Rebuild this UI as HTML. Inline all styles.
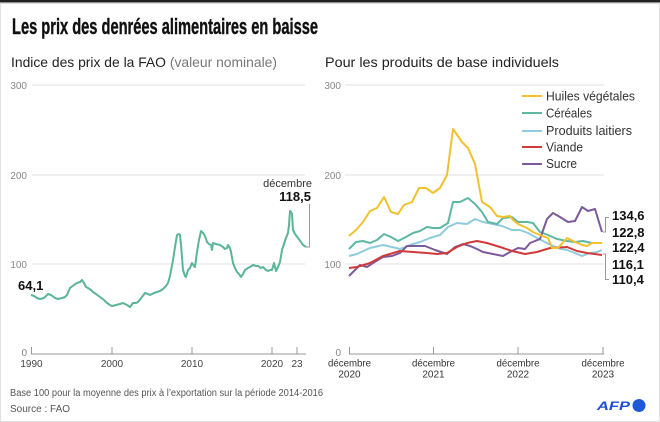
<!DOCTYPE html>
<html><head><meta charset="utf-8"><style>
html,body{margin:0;padding:0;background:#fff;}
svg{display:block;font-family:"Liberation Sans",sans-serif;}
</style></head><body>
<svg width="660" height="422" viewBox="0 0 660 422" xmlns="http://www.w3.org/2000/svg">
<rect x="0" y="0" width="660" height="422" fill="#fff"/>
<rect x="0" y="0" width="660" height="2.5" fill="#222"/>
<line x1="0" y1="3.5" x2="660" y2="3.5" stroke="#ddd" stroke-width="1"/>
<line x1="0.5" y1="3" x2="0.5" y2="422" stroke="#e2e2e2" stroke-width="1"/>
<line x1="659.5" y1="3" x2="659.5" y2="422" stroke="#e2e2e2" stroke-width="1"/>
<line x1="0" y1="421.5" x2="660" y2="421.5" stroke="#e2e2e2" stroke-width="1"/>

<text x="12" y="34" font-size="22" font-weight="bold" fill="#111" stroke="#111" stroke-width="0.4" textLength="306" lengthAdjust="spacingAndGlyphs">Les prix des denrées alimentaires en baisse</text>
<text x="11" y="67" font-size="14" fill="#222" textLength="266" lengthAdjust="spacingAndGlyphs">Indice des prix de la FAO <tspan fill="#777">(valeur nominale)</tspan></text>
<text x="325" y="67" font-size="14" fill="#222" textLength="234" lengthAdjust="spacingAndGlyphs">Pour les produits de base individuels</text>

<!-- Left chart grid -->
<g stroke="#e0e0e0" stroke-width="1">
<line x1="32" y1="85" x2="305" y2="85"/>
<line x1="32" y1="175" x2="305" y2="175"/>
<line x1="32" y1="264" x2="305" y2="264"/>
</g>
<g font-size="10" fill="#888" text-anchor="end">
<text x="27" y="89">300</text>
<text x="27" y="179">200</text>
<text x="27" y="268">100</text>
<text x="27" y="356">0</text>
</g>
<g stroke="#999" stroke-width="1">
<line x1="31" y1="354" x2="306" y2="354"/>
<line x1="31.5" y1="347" x2="31.5" y2="354"/>
<line x1="112" y1="347" x2="112" y2="354"/>
<line x1="192" y1="347" x2="192" y2="354"/>
<line x1="272" y1="347" x2="272" y2="354"/>
<line x1="297" y1="347" x2="297" y2="354"/>
</g>
<g font-size="10" fill="#444" text-anchor="middle">
<text x="31.5" y="367">1990</text>
<text x="112" y="367">2000</text>
<text x="192" y="367">2010</text>
<text x="272" y="367">2020</text>
<text x="297" y="367">23</text>
</g>
<polyline fill="none" stroke="#5bb597" stroke-width="2" stroke-linejoin="round" points="31,295 34,296 37,298 40,299 44,298 48,294 51,295 55,298 58,299 62,298 65,297 67,295 70,288 74,285 77,283 80,282 82,280 84,283 86,287 88,288 91,290 93,292 96,294 100,297 104,300 107,303 110,305 112,306 116,305 120,304 123,303 127,305 130,307 133,303 136,303 138,302 142,297 145,293 148,294 150,295 154,293 157,292 160,291 163,289 166,286 168,283 170,276 173,260 175,247 177,235 179,234 180,235 181,245 183,270 185,276 186,277 188,270 190,268 192,263 194,266 195,267 197,252 199,240 201,231 203,233 205,236 207,242 209,244 211,245 212,250 213,243 216,244 220,245 223,247 225,249 227,248 228,245 230,248 231,252 233,263 235,268 237,272 239,274 241,277 243,274 245,270 248,268 250,267 253,265 256,266 258,266 261,268 263,267 266,270 268,271 270,270 272,270 274,263 276,271 278,267 280,262 282,250 284,244 286,238 288,233 289,225 290,211 291,212 292,214 293,230 295,234 298,238 301,242 303,245 306,247"/>
<text x="18" y="290" font-size="13" font-weight="bold" fill="#111">64,1</text>
<text x="312" y="187" font-size="11" fill="#333" text-anchor="end">décembre</text>
<text x="311" y="201" font-size="13" font-weight="bold" fill="#111" text-anchor="end">118,5</text>
<path d="M309.5,204 V247 H306" fill="none" stroke="#999" stroke-width="1"/>

<!-- Right chart grid -->
<g stroke="#e0e0e0" stroke-width="1">
<line x1="345" y1="85" x2="604" y2="85"/>
<line x1="345" y1="175" x2="604" y2="175"/>
<line x1="345" y1="264" x2="604" y2="264"/>
</g>
<g font-size="10" fill="#888" text-anchor="end">
<text x="341" y="89">300</text>
<text x="341" y="179">200</text>
<text x="341" y="268">100</text>
<text x="341" y="356">0</text>
</g>
<g stroke="#999" stroke-width="1">
<line x1="349" y1="354" x2="604" y2="354"/>
<line x1="349.5" y1="347" x2="349.5" y2="354"/>
<line x1="433.5" y1="347" x2="433.5" y2="354"/>
<line x1="518" y1="347" x2="518" y2="354"/>
<line x1="603" y1="347" x2="603" y2="354"/>
</g>
<g font-size="10" fill="#333" text-anchor="middle">
<text x="349.5" y="366.5" textLength="43" lengthAdjust="spacingAndGlyphs">décembre</text>
<text x="349.5" y="377.5">2020</text>
<text x="433.5" y="366.5" textLength="43" lengthAdjust="spacingAndGlyphs">décembre</text>
<text x="433.5" y="377.5">2021</text>
<text x="518" y="366.5" textLength="43" lengthAdjust="spacingAndGlyphs">décembre</text>
<text x="518" y="377.5">2022</text>
<text x="603" y="366.5" textLength="43" lengthAdjust="spacingAndGlyphs">décembre</text>
<text x="603" y="377.5">2023</text>
</g>

<g fill="none" stroke-width="2" stroke-linejoin="round">
<!-- Produits laitiers -->
<polyline stroke="#8fcbdc" points="349,256 357,254 370,248 383,245 392,247 400,249 410,245 420,242 430,238 440,235 448,227 457,223 467,224 475,219 483,222 493,224 502,226 512,230 520,230 528,233 537,238 547,243 557,248 567,250 575,253 582,256 590,253 597,252 602,250"/>
<!-- Céréales -->
<polyline stroke="#5cb8a3" points="349,249 356,242 363,241 370,243 377,240 384,234 391,237 398,241 406,237 413,233 420,231 427,227 433,228 440,228 448,223 453,202 460,202 468,198 475,204 482,212 488,222 497,224 503,218 512,217 518,222 527,222 533,223 540,232 548,235 557,239 567,241 575,242 583,241 592,243 602,243"/>
<!-- Sucre -->
<polyline stroke="#7c5a9b" points="349,276 353,272 360,265 367,267 373,263 383,257 392,256 400,253 407,246 415,246 425,246 435,250 447,254 455,247 463,244 470,246 477,249 483,252 493,254 503,256 510,252 518,248 525,249 530,243 540,239 547,219 553,213 560,217 568,222 575,221 582,207 588,211 595,209 602,232"/>
<!-- Viande -->
<polyline stroke="#d23a3a" points="349,268 357,267 370,263 383,256 400,251 413,252 427,253 437,254 447,253 457,247 467,243 477,241 487,243 500,247 512,251 525,254 537,252 550,248 567,247 577,251 587,253 602,255"/>
<!-- Huiles végétales -->
<polyline stroke="#f2c12e" points="349,236 356,230 363,222 370,211 377,208 384,197 391,212 398,214 404,205 412,202 419,188 426,188 433,193 440,188 447,175 453,129 462,142 468,148 475,164 482,202 490,207 497,216 503,217 510,216 513,220 518,224 527,228 533,232 540,235 548,238 552,248 558,248 567,238 573,241 582,245 587,246 592,243 602,243"/>
</g>

<g fill="none" stroke="#999" stroke-width="1">
<path d="M603,232 H605.5 V217.5 H609"/>
<path d="M603,254 H605.5 V279.5 H609"/>
</g>
<g font-size="13" font-weight="bold" fill="#111">
<text x="612" y="220">134,6</text>
<text x="612" y="237">122,8</text>
<text x="612" y="252">122,4</text>
<text x="612" y="269">116,1</text>
<text x="612" y="284">110,4</text>
</g>

<!-- Legend -->
<g stroke-width="2">
<line x1="522" y1="96" x2="542" y2="96" stroke="#f2c12e"/>
<line x1="522" y1="113" x2="542" y2="113" stroke="#5cb8a3"/>
<line x1="522" y1="131" x2="542" y2="131" stroke="#8fcbdc"/>
<line x1="522" y1="147" x2="542" y2="147" stroke="#d23a3a"/>
<line x1="522" y1="164" x2="542" y2="164" stroke="#7c5a9b"/>
</g>
<g font-size="12.5" fill="#333">
<text x="546" y="100.5" textLength="89" lengthAdjust="spacingAndGlyphs">Huiles végétales</text>
<text x="546" y="117.5" textLength="46" lengthAdjust="spacingAndGlyphs">Céréales</text>
<text x="546" y="135" textLength="86" lengthAdjust="spacingAndGlyphs">Produits laitiers</text>
<text x="546" y="151.5" textLength="37" lengthAdjust="spacingAndGlyphs">Viande</text>
<text x="546" y="168" textLength="31" lengthAdjust="spacingAndGlyphs">Sucre</text>
</g>

<!-- Footer -->
<text x="10" y="396" font-size="10" fill="#555" textLength="313" lengthAdjust="spacingAndGlyphs">Base 100 pour la moyenne des prix à l’exportation sur la période 2014-2016</text>
<text x="10" y="412" font-size="10" fill="#555">Source : FAO</text>
<text x="597" y="410" font-size="12" font-weight="bold" font-style="italic" fill="#1d4fd0" textLength="33" lengthAdjust="spacingAndGlyphs">AFP</text>
<circle cx="639" cy="405.5" r="6.5" fill="#1d58d8"/>
</svg>
</body></html>
